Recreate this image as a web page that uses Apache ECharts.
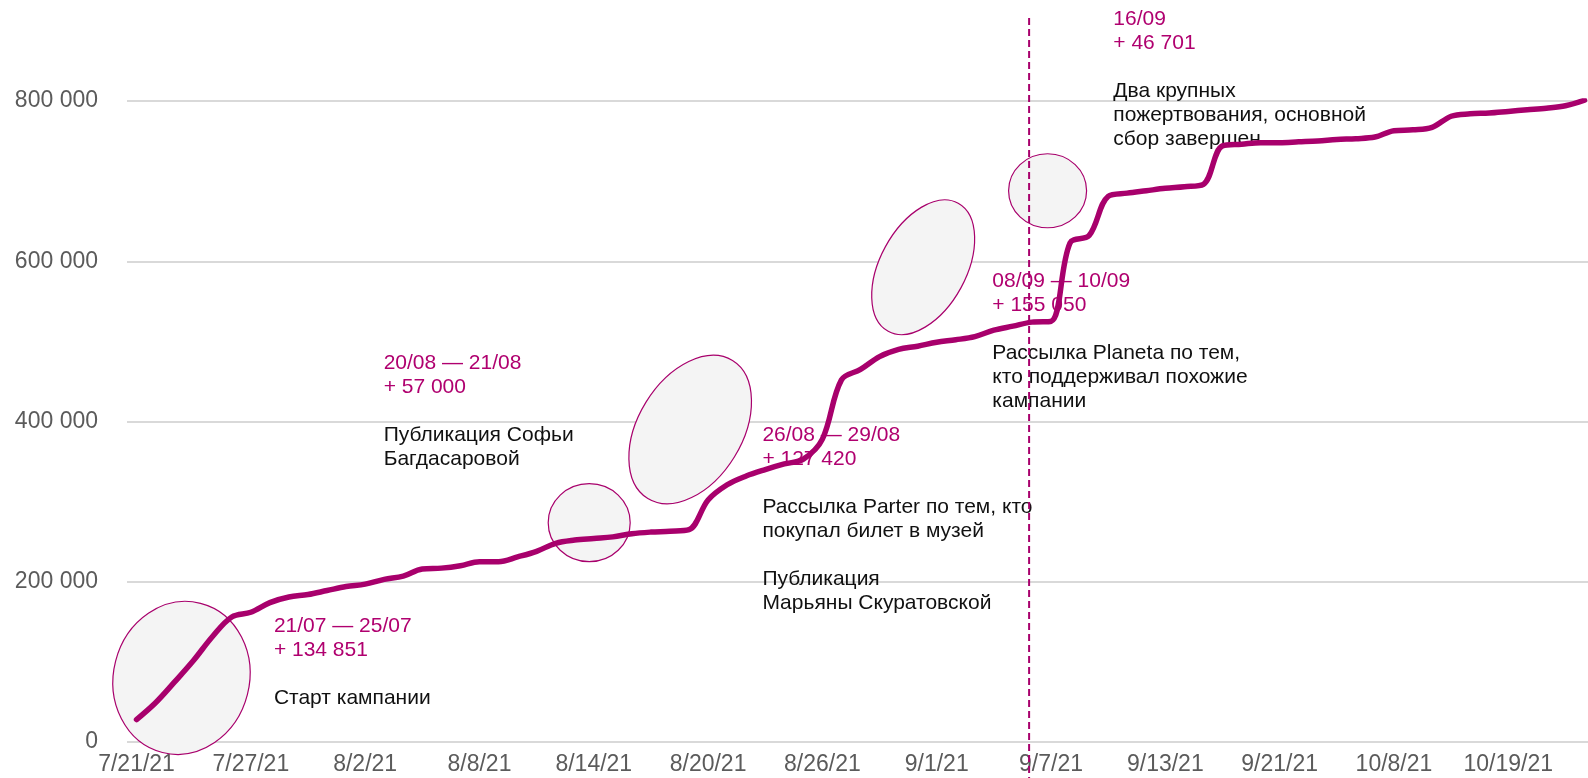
<!DOCTYPE html>
<html>
<head>
<meta charset="utf-8">
<script src="https://cdn.jsdelivr.net/npm/echarts@6/dist/echarts.min.js"></script>
<style>
html,body{margin:0;padding:0;background:#fff;overflow:hidden;}
#chart{width:1588px;height:778px;}
</style>
</head>
<body>
<div id="chart"></div>
<script>
const dates = [
  '7/21/21','7/22/21','7/23/21','7/24/21','7/25/21','7/26/21','7/27/21','7/28/21','7/29/21','7/30/21','7/31/21',
  '8/1/21','8/2/21','8/3/21','8/4/21','8/5/21','8/6/21','8/7/21','8/8/21','8/9/21','8/10/21','8/11/21','8/12/21',
  '8/13/21','8/14/21','8/15/21','8/16/21','8/17/21','8/18/21','8/19/21','8/20/21','8/21/21','8/22/21','8/23/21',
  '8/24/21','8/25/21','8/26/21','8/27/21','8/28/21','8/29/21','8/30/21','8/31/21','9/1/21','9/2/21','9/3/21',
  '9/4/21','9/5/21','9/6/21','9/7/21','9/8/21','9/9/21','9/10/21','9/11/21','9/12/21','9/13/21',
  '9/14/21','9/15/21','9/16/21','9/17/21','9/19/21','9/21/21','9/23/21','9/25/21','9/28/21','10/1/21','10/5/21',
  '10/8/21','10/10/21','10/12/21','10/14/21','10/16/21','10/17/21','10/19/21','10/21/21','10/24/21','10/27/21','10/30/21'
];
const totals = [
  28000, 49000, 75000, 102000, 132000, 156000, 162000, 174000, 181000, 184000, 189000,
  194000, 197000, 203000, 207000, 216000, 217000, 220000, 225000, 225000, 231000, 238000, 248000,
  252000, 254000, 256000, 260000, 262000, 263000, 265000, 302000, 321000, 332000, 340000,
  347000, 353000, 378000, 452000, 465000, 481000, 490000, 494000, 499000, 502000, 506000,
  514000, 519000, 524000, 525000, 623000, 632000, 681000, 685000, 688000, 691000,
  693000, 696000, 744000, 746000, 748000, 748000, 749000, 750000, 752000, 753000, 755000,
  763000, 764000, 767000, 781000, 784000, 785000, 787000, 789000, 791000, 794000, 801000
];
const yTicks = [0, 200000, 400000, 600000, 800000];

// annotations: anchor in data space (fractional category index, value)
const notes = [
  { idx: 7.21,  val: 159000, head: ['21/07 — 25/07', '+ 134 851'], body: ['Старт кампании'] },
  { idx: 12.97, val: 487500, head: ['20/08 — 21/08', '+ 57 000'], body: ['Публикация Софьи', 'Багдасаровой'] },
  { idx: 32.85, val: 398000, head: ['26/08 — 29/08', '+ 127 420'], body: ['Рассылка Parter по тем, кто', 'покупал билет в музей', '', 'Публикация', 'Марьяны Скуратовской'] },
  { idx: 44.92, val: 590500, head: ['08/09 — 10/09', '+ 155 050'], body: ['Рассылка Planeta по тем,', 'кто поддерживал похожие', 'кампании'] },
  { idx: 51.27, val: 916500, head: ['16/09', '+ 46 701'], body: ['Два крупных', 'пожертвования, основной', 'сбор завершен'] }
];
const ellipses = [
  { idx: 2.36,  val: 80000,  rx: 68, ry: 77, rot: -0.25 },
  { idx: 23.76, val: 273750, rx: 41, ry: 39, rot: 0 },
  { idx: 29.06, val: 390000, rx: 52, ry: 81, rot: -0.55 },
  { idx: 41.29, val: 592500, rx: 43, ry: 73, rot: -0.5 },
  { idx: 47.82, val: 688000, rx: 39, ry: 37, rot: 0 }
];
const markerIdx = 46.85;

const MAG = '#a8006c';
const TXT_MAG = '#b0006f';
const FONT = 'Liberation Sans, Arial, sans-serif';

const chart = echarts.init(document.getElementById('chart'));
const fmt = v => String(v).replace(/\B(?=(\d{3})+(?!\d))/g, ' ');

chart.setOption({
  animation: false,
  grid: { left: 127, right: -6, top: 101, bottom: 36, outerBoundsMode: 'none', containLabel: false },
  xAxis: {
    type: 'category',
    data: dates,
    boundaryGap: true,
    axisLine: { show: false },
    axisTick: { show: false },
    axisLabel: { interval: 5, fontSize: 23, color: '#5b5b5b', fontFamily: FONT, margin: 11 }
  },
  yAxis: {
    type: 'value',
    min: yTicks[0],
    max: yTicks[yTicks.length - 1],
    interval: 200000,
    axisLine: { show: false },
    axisTick: { show: false },
    splitLine: { lineStyle: { color: '#d9d9d9', width: 2 } },
    axisLabel: { fontSize: 23, color: '#5b5b5b', fontFamily: FONT, margin: 29, formatter: fmt }
  },
  series: [{
    type: 'line',
    data: totals,
    smooth: 0.35,
    symbol: 'none',
    z: 3,
    lineStyle: { color: MAG, width: 5.5, cap: 'round', join: 'round' }
  }]
});

// category axis conversion rounds indices, so interpolate between neighbours
function toPx(idx, val) {
  const i0 = Math.floor(idx);
  const a = chart.convertToPixel({ gridIndex: 0 }, [i0, val]);
  const b = chart.convertToPixel({ gridIndex: 0 }, [i0 + 1, val]);
  const f = idx - i0;
  return [a[0] + (b[0] - a[0]) * f, a[1]];
}

function drawAnnotations() {
  const els = [];
  ellipses.forEach(e => {
    const p = toPx(e.idx, e.val);
    els.push({
      type: 'ellipse', x: p[0], y: p[1], rotation: e.rot, z: 1,
      shape: { cx: 0, cy: 0, rx: e.rx, ry: e.ry },
      style: { fill: '#f4f4f4', stroke: MAG, lineWidth: 1.2 }
    });
  });
  notes.forEach(n => {
    const p = toPx(n.idx, n.val);
    els.push({
      type: 'text', x: p[0], y: p[1], z: 1,
      style: { text: n.head.join('\n'), fill: TXT_MAG, font: '21px ' + FONT, lineHeight: 24, verticalAlign: 'top', align: 'left' }
    });
    els.push({
      type: 'text', x: p[0], y: p[1] + 72, z: 1,
      style: { text: n.body.join('\n'), fill: '#111', font: '21px ' + FONT, lineHeight: 24, verticalAlign: 'top', align: 'left' }
    });
  });
  const mx = toPx(markerIdx, 0)[0];
  els.push({
    type: 'line', z: 5,
    shape: { x1: mx, y1: 18, x2: mx, y2: 778 },
    style: { stroke: MAG, lineWidth: 2, lineDash: [7, 4] }
  });
  chart.setOption({ graphic: els });
}
drawAnnotations();
</script>
</body>
</html>
